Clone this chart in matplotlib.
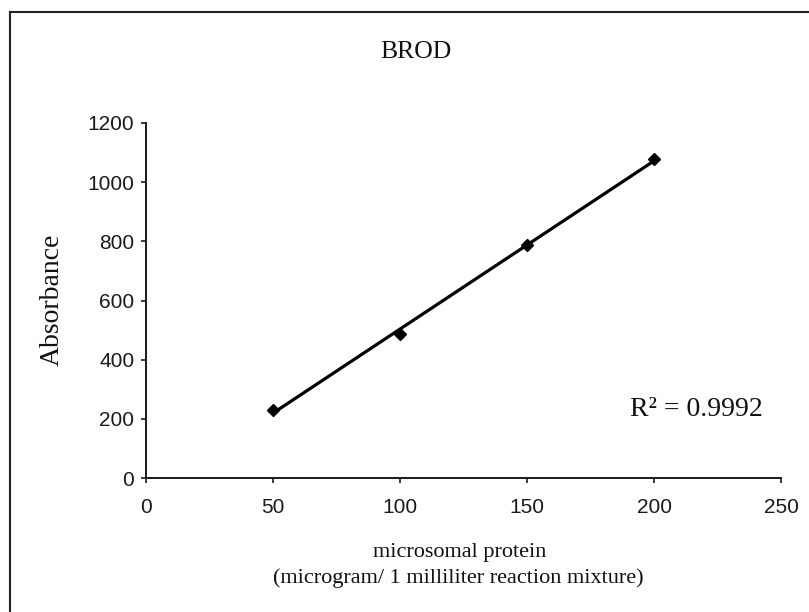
import numpy as np
import matplotlib
matplotlib.use("Agg")
import matplotlib.pyplot as plt
from matplotlib.lines import Line2D

# values
protein = [50, 100, 150, 200]
absorbance = [231, 486, 787, 1078]
x_ticks = [0, 50, 100, 150, 200, 250]
y_ticks = [0, 200, 400, 600, 800, 1000, 1200]
r2_text = "R\u00b2 = 0.9992"

W, H = 809, 612
fig = plt.figure(figsize=(W / 100, H / 100), dpi=100)
fig.patch.set_facecolor("white")

# plot area in pixels of the reference
left, right, top, bottom = 146, 781, 123, 478
ax = fig.add_axes([left / W, 1 - bottom / H, (right - left) / W, (bottom - top) / H])

# linear trendline through the points
slope, icept = np.polyfit(protein, absorbance, 1)
xfit = np.array([min(protein), max(protein)])
ax.plot(xfit, slope * xfit + icept, color="black", lw=2.3, zorder=2)
ax.plot(protein, absorbance, linestyle="none", marker="D", ms=6.5,
        color="black", zorder=3)

ax.set_xlim(0, 250)
ax.set_ylim(0, 1200)
ax.set_xticks(x_ticks)
ax.set_yticks(y_ticks)

for s in ["top", "right"]:
    ax.spines[s].set_visible(False)
for s in ["left", "bottom"]:
    ax.spines[s].set_linewidth(1.4)
    ax.spines[s].set_color("#1a1a1a")

ax.tick_params(axis="both", direction="out", length=3.5, width=1.2,
               colors="#1a1a1a", labelsize=15)
ax.tick_params(axis="x", pad=11)
ax.tick_params(axis="y", pad=5)
for lab in ax.get_xticklabels() + ax.get_yticklabels():
    lab.set_family("Liberation Sans")

serif = "Liberation Serif"
ink = "#111111"
fig.text(416 / W, 1 - 52 / H, "BROD", family=serif, fontsize=18.5,
         ha="center", va="center", color=ink)
fig.text(52 / W, 1 - 300 / H, "Absorbance", family=serif, fontsize=20,
         rotation=90, ha="center", va="center", color=ink)
fig.text(460 / W, 1 - 552 / H, "microsomal protein", family=serif,
         fontsize=16, ha="center", va="center", color=ink)
fig.text(458 / W, 1 - 578 / H, "(microgram/ 1 milliliter reaction mixture)",
         family=serif, fontsize=16, ha="center", va="center", color=ink)
fig.text(630 / W, 1 - 410 / H, r2_text, family=serif, fontsize=20,
         ha="left", va="center", color=ink)

# chart-area border (left and top edges visible in the scan)
fig.add_artist(Line2D([10 / W, 10 / W], [0, 1 - 12 / H], transform=fig.transFigure,
                      color="#222222", lw=1.5))
fig.add_artist(Line2D([10 / W, 1], [1 - 12 / H, 1 - 12 / H], transform=fig.transFigure,
                      color="#222222", lw=1.5))

fig.savefig("out.png", dpi=100)
